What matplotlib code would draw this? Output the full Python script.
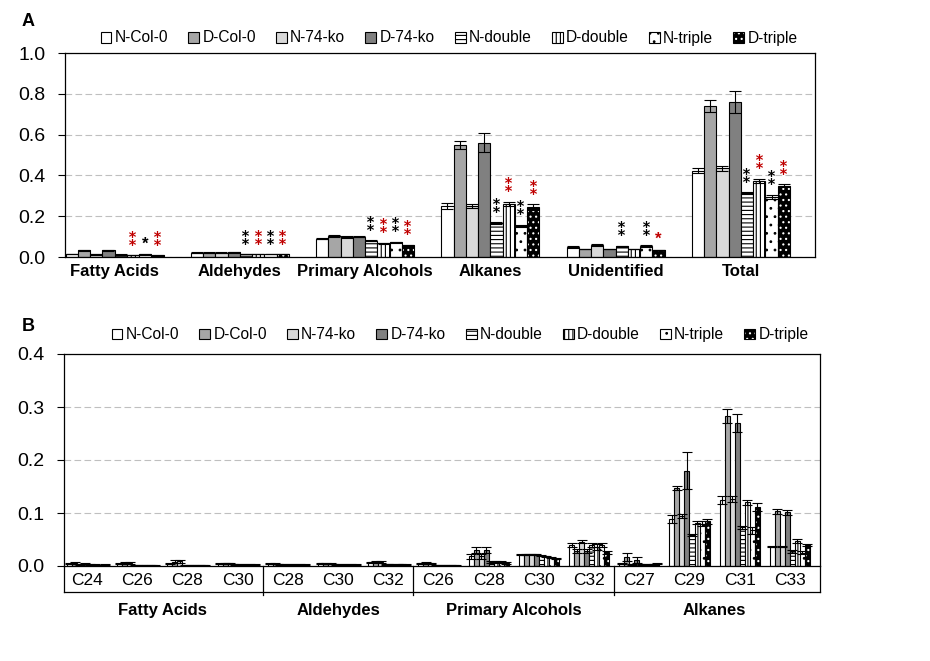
import numpy as np
import matplotlib.pyplot as plt
import matplotlib.transforms as mtransforms

plt.rcParams['font.family'] = ['Liberation Sans', 'DejaVu Sans']
plt.rcParams['hatch.linewidth'] = 0.8

series = ['N-Col-0', 'D-Col-0', 'N-74-ko', 'D-74-ko', 'N-double', 'D-double', 'N-triple', 'D-triple']

# ---- panel A data: wax classes ----
classes_a = ['Fatty Acids', 'Aldehydes', 'Primary Alcohols', 'Alkanes', 'Unidentified', 'Total']
a_ncol0 = [0.015, 0.022, 0.089, 0.250, 0.049, 0.423]
a_dcol0 = [0.032, 0.022, 0.102, 0.551, 0.039, 0.741]
a_n74 = [0.014, 0.022, 0.098, 0.250, 0.059, 0.436]
a_d74 = [0.032, 0.023, 0.100, 0.561, 0.039, 0.761]
a_ndouble = [0.012, 0.014, 0.080, 0.166, 0.052, 0.312]
a_ddouble = [0.009, 0.014, 0.068, 0.262, 0.039, 0.374]
a_ntriple = [0.013, 0.014, 0.072, 0.154, 0.054, 0.296]
a_dtriple = [0.008, 0.014, 0.058, 0.244, 0.034, 0.350]
vals_a = [a_ncol0, a_dcol0, a_n74, a_d74, a_ndouble, a_ddouble, a_ntriple, a_dtriple]

err_a = [
    [0.002, 0.002, 0.003, 0.015, 0.003, 0.013],
    [0.003, 0.002, 0.006, 0.020, 0.002, 0.030],
    [0.002, 0.002, 0.004, 0.010, 0.004, 0.012],
    [0.003, 0.002, 0.004, 0.045, 0.002, 0.055],
    [0.001, 0.001, 0.003, 0.005, 0.003, 0.005],
    [0.001, 0.001, 0.002, 0.010, 0.002, 0.010],
    [0.001, 0.001, 0.003, 0.005, 0.003, 0.010],
    [0.001, 0.001, 0.002, 0.015, 0.002, 0.008],
]

# significance marks per class (k = black, r = red; 1 or 2 asterisks)
sig_a = [
    ['', '', '', '', '', 'r2', 'k1', 'r2'],
    ['', '', '', '', 'k2', 'r2', 'k2', 'r2'],
    ['', '', '', '', 'k2', 'r2', 'k2', 'r2'],
    ['', '', '', '', 'k2', 'r2', 'k2', 'r2'],
    ['', '', '', '', 'k2', '', 'k2', 'r1'],
    ['', '', '', '', 'k2', 'r2', 'k2', 'r2'],
]

# ---- panel B data: chain lengths ----
chains_b = ['C24', 'C26', 'C28', 'C30', 'C28', 'C30', 'C32', 'C26', 'C28', 'C30', 'C32',
            'C27', 'C29', 'C31', 'C33']
groups_b = ['Fatty Acids', 'Aldehydes', 'Primary Alcohols', 'Alkanes']
group_sizes_b = [4, 3, 4, 4]

b_ncol0 = [0.004, 0.004, 0.004, 0.004, 0.004, 0.005, 0.007, 0.005, 0.018, 0.021, 0.040, 0.004, 0.089, 0.125, 0.036]
b_dcol0 = [0.005, 0.006, 0.008, 0.005, 0.004, 0.004, 0.007, 0.006, 0.030, 0.022, 0.029, 0.017, 0.147, 0.283, 0.103]
b_n74 = [0.003, 0.006, 0.009, 0.005, 0.003, 0.004, 0.007, 0.005, 0.018, 0.022, 0.046, 0.003, 0.094, 0.126, 0.036]
b_d74 = [0.004, 0.001, 0.001, 0.003, 0.002, 0.003, 0.003, 0.001, 0.030, 0.022, 0.029, 0.011, 0.180, 0.269, 0.101]
b_ndouble = [0.002, 0.001, 0.001, 0.002, 0.002, 0.002, 0.003, 0.001, 0.008, 0.019, 0.040, 0.003, 0.058, 0.073, 0.028]
b_ddouble = [0.002, 0.001, 0.001, 0.002, 0.002, 0.002, 0.002, 0.001, 0.007, 0.018, 0.036, 0.002, 0.082, 0.120, 0.047]
b_ntriple = [0.001, 0.001, 0.001, 0.002, 0.002, 0.002, 0.003, 0.001, 0.008, 0.016, 0.040, 0.003, 0.080, 0.067, 0.025]
b_dtriple = [0.002, 0.001, 0.001, 0.002, 0.002, 0.002, 0.002, 0.001, 0.006, 0.014, 0.026, 0.004, 0.084, 0.111, 0.039]
vals_b = [b_ncol0, b_dcol0, b_n74, b_d74, b_ndouble, b_ddouble, b_ntriple, b_dtriple]

err_b = [
    [0.001, 0.001, 0.001, 0.001, 0.001, 0.001, 0.001, 0.001, 0.004, 0.001, 0.004, 0.001, 0.008, 0.008, 0.001],
    [0.002, 0.002, 0.003, 0.001, 0.001, 0.001, 0.002, 0.002, 0.006, 0.001, 0.004, 0.008, 0.004, 0.014, 0.004],
    [0.001, 0.002, 0.003, 0.001, 0.001, 0.001, 0.002, 0.001, 0.004, 0.001, 0.003, 0.001, 0.004, 0.006, 0.001],
    [0.001, 0.001, 0.001, 0.001, 0.001, 0.001, 0.001, 0.001, 0.006, 0.001, 0.004, 0.006, 0.035, 0.017, 0.004],
    [0.001, 0.001, 0.001, 0.001, 0.001, 0.001, 0.001, 0.001, 0.002, 0.001, 0.004, 0.001, 0.002, 0.003, 0.003],
    [0.001, 0.001, 0.001, 0.001, 0.001, 0.001, 0.001, 0.001, 0.002, 0.001, 0.005, 0.001, 0.003, 0.005, 0.004],
    [0.001, 0.001, 0.001, 0.001, 0.001, 0.001, 0.001, 0.001, 0.002, 0.001, 0.004, 0.001, 0.005, 0.006, 0.003],
    [0.001, 0.001, 0.001, 0.001, 0.001, 0.001, 0.001, 0.001, 0.002, 0.001, 0.003, 0.001, 0.005, 0.007, 0.002],
]

# fill colour, hatch, hatch colour
styles = [
    ('white', '', 'black'),
    ('#A6A6A6', '', 'black'),
    ('#D9D9D9', '', 'black'),
    ('#808080', '', 'black'),
    ('white', '----', 'black'),
    ('white', '||||', 'black'),
    ('white', '..', 'black'),
    ('black', '...', 'white'),
]
red = '#C00000'


def draw_bars(ax, vals, errs, width, capsize):
    n = len(vals[0])
    x = np.arange(n)
    offsets = (np.arange(8) - 3.5) * width
    handles = []
    for i in range(8):
        fc, hatch, hc = styles[i]
        bars = ax.bar(x + offsets[i], vals[i], width, color=fc, edgecolor='black',
                      linewidth=0.8, hatch=hatch, zorder=2)
        for p in bars:
            p._hatch_color = plt.matplotlib.colors.to_rgba(hc)
        ax.errorbar(x + offsets[i], vals[i], yerr=errs[i], fmt='none', ecolor='black',
                    elinewidth=0.8, capsize=capsize, capthick=0.8, zorder=3)
        handles.append(bars)
    return x, offsets, handles


def style_axes(ax):
    for s in ax.spines.values():
        s.set_linewidth(0.9)
        s.set_color('black')
    ax.yaxis.grid(True, linestyle=(0, (6, 3)), color='#BFBFBF', linewidth=0.8, zorder=0)
    ax.set_axisbelow(True)
    ax.tick_params(axis='y', direction='out', length=5, width=0.8, pad=9, labelsize=14)


fig = plt.figure(figsize=(9.3, 6.61), dpi=100)

# ---- panel A ----
axA = fig.add_axes([65 / 930, 1 - 257 / 661, 750 / 930, 204 / 661])
xA, offA, hA = draw_bars(axA, vals_a, err_a, 0.098, 4)
axA.set_xlim(-0.396, 5.592)
axA.set_ylim(0, 1.0)
axA.set_yticks(np.arange(0, 1.01, 0.2))
axA.set_yticklabels(['%.1f' % v for v in np.arange(0, 1.01, 0.2)])
axA.set_xticks(xA)
axA.set_xticklabels(classes_a, fontweight='bold', fontsize=12)
axA.tick_params(axis='x', length=0, pad=5)
style_axes(axA)

for j in range(len(classes_a)):
    for i in range(8):
        code = sig_a[j][i]
        if not code:
            continue
        col = red if code[0] == 'r' else 'black'
        top = vals_a[i][j] + err_a[i][j]
        xs = xA[j] + offA[i]
        if code[1] == '2':
            axA.text(xs, top + 0.07, '\u2051', color=col, ha='center', va='center',
                     fontsize=13, fontweight='bold', family=['DejaVu Sans'], zorder=4)
        else:
            axA.text(xs, top + 0.05, '*', color=col, ha='center', va='center',
                     fontsize=12, fontweight='bold', zorder=4)

fig.legend([h for h in hA], series, loc='center', bbox_to_anchor=(449 / 930, 1 - 38 / 661),
           ncol=8, frameon=False, fontsize=11.2, handlelength=0.7, handleheight=0.7,
           handletextpad=0.2, columnspacing=1.3)

# ---- panel B ----
axB = fig.add_axes([64 / 930, 1 - 566 / 661, 756 / 930, 212 / 661])
xB, offB, hB = draw_bars(axB, vals_b, err_b, 0.1, 3.5)
axB.set_xlim(-0.46, 14.6)
axB.set_ylim(0, 0.4)
axB.set_yticks(np.arange(0, 0.41, 0.1))
axB.set_yticklabels(['%.1f' % v for v in np.arange(0, 0.41, 0.1)])
axB.set_xticks(xB)
axB.set_xticklabels(chains_b, fontsize=12.5)
axB.tick_params(axis='x', length=0, pad=5)
style_axes(axB)

trans = mtransforms.blended_transform_factory(axB.transData, axB.transAxes)
box_y = -0.123
axB.plot([0, 1], [box_y, box_y], transform=axB.transAxes, color='black', lw=0.9, clip_on=False)
axB.plot([0, 0], [0, box_y], transform=axB.transAxes, color='black', lw=0.9, clip_on=False)
axB.plot([1, 1], [0, box_y], transform=axB.transAxes, color='black', lw=0.9, clip_on=False)
start = 0
for name, size in zip(groups_b, group_sizes_b):
    mid = start + (size - 1) / 2
    axB.text(mid, -0.208, name, transform=trans, ha='center', va='center',
             fontsize=12, fontweight='bold')
    start += size
    if start < len(chains_b):
        axB.plot([start - 0.5, start - 0.5], [0, box_y - 0.012], transform=trans,
                 color='black', lw=0.9, clip_on=False)

fig.legend([h for h in hB], series, loc='center', bbox_to_anchor=(460 / 930, 1 - 335 / 661),
           ncol=8, frameon=False, fontsize=11.2, handlelength=0.7, handleheight=0.7,
           handletextpad=0.2, columnspacing=1.3)

fig.text(22 / 930, 1 - 21 / 661, 'A', fontsize=13, fontweight='bold', ha='left', va='center')
fig.text(22 / 930, 1 - 327 / 661, 'B', fontsize=13, fontweight='bold', ha='left', va='center')

fig.savefig('out.png', dpi=100)
